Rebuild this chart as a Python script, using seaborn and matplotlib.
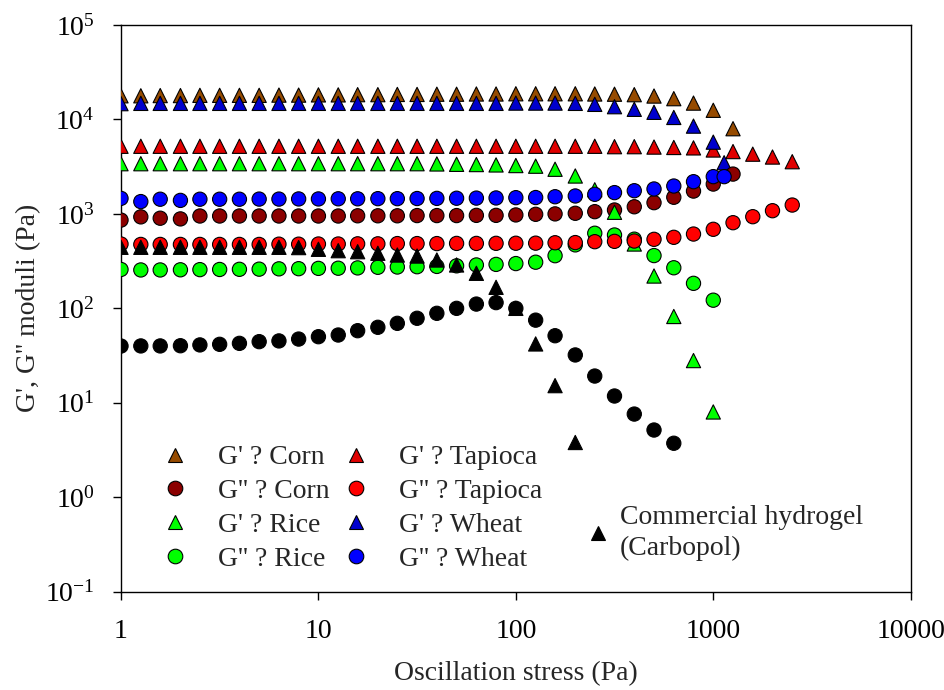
import matplotlib
matplotlib.use("Agg")
import matplotlib.pyplot as plt
import numpy as np
import pandas as pd
import seaborn as sns
from matplotlib.lines import Line2D
from matplotlib.ticker import LogFormatterMathtext, NullLocator, FuncFormatter, FixedLocator

# ---------------- data ----------------
STRESS = [1, 1.26, 1.58, 2, 2.51, 3.16, 3.98, 5.01, 6.31, 7.94,
          10, 12.6, 15.8, 20, 25.1, 31.6, 39.8, 50.1, 63.1, 79.4,
          100, 126, 158, 200, 251, 316, 398, 501, 631, 794,
          1000, 1259, 1585, 1995, 2512]
STRESS_WHEAT = STRESS[:31] + [1135]

X_TICKS = [1, 10, 100, 1000, 10000]
Y_TICKS = [0.1, 1, 10, 100, 1000, 10000, 100000]

corn_gp = [17800, 17800, 17900, 17900, 18000, 18000, 18000, 18000, 18100, 18100,
           18200, 18200, 18300, 18300, 18400, 18400, 18500, 18500, 18600, 18600,
           18700, 18700, 18700, 18700, 18600, 18500, 18300, 17700, 16600, 14900,
           12500, 7980]
corn_gpp = [860, 930, 900, 885, 950, 950, 950, 950, 950, 950,
            950, 950, 955, 955, 955, 960, 960, 960, 965, 965,
            975, 990, 1000, 1015, 1056, 1100, 1190, 1315, 1500, 1745,
            2070, 2640]
rice_gp = [3400, 3400, 3400, 3400, 3400, 3400, 3400, 3400, 3400, 3400,
           3400, 3400, 3400, 3400, 3400, 3400, 3380, 3350, 3330, 3300,
           3250, 3200, 2970, 2520, 1800, 1040, 480, 220, 82, 28,
           8]
rice_gpp = [258, 255, 255, 256, 257, 258, 259, 260, 262, 263,
            265, 266, 268, 272, 274, 276, 278, 282, 288, 292,
            298, 308, 361, 470, 624, 598, 540, 362, 269, 184,
            122]
tapioca_gp = [5200] * 24 + [5200, 5150, 5150, 5100, 5050, 5000, 4750, 4570, 4290, 4000, 3570]
tapioca_gpp = [480, 475, 475, 475, 475, 475, 475, 475, 478, 478,
               480, 480, 482, 482, 485, 485, 485, 487, 487, 488,
               489, 490, 495, 497, 508, 512, 516, 538, 565, 612,
               687, 807, 934, 1081, 1241]
wheat_gp = [14700, 14800, 14800, 14800, 14800, 14800, 14800, 14800, 14800, 14800,
            14800, 14800, 14800, 14800, 14800, 14800, 14800, 14800, 14800, 14800,
            14900, 14900, 14900, 14800, 14450, 13650, 12800, 11900, 10500, 8500,
            5750, 3480]
wheat_gpp = [1460, 1350, 1430, 1390, 1430, 1430, 1430, 1435, 1435, 1440,
             1440, 1445, 1445, 1450, 1450, 1455, 1460, 1465, 1470, 1475,
             1486, 1490, 1520, 1548, 1612, 1680, 1760, 1836, 1973, 2193,
             2480, 2480]
carbopol_gp = [443, 443, 443, 443, 443, 443, 443, 443, 443, 440,
               422, 408, 398, 383, 367, 358, 325, 288, 235, 167,
               100, 42, 15.2, 3.8]
carbopol_gpp = [39.9, 40, 40, 40.2, 41, 41.6, 42.6, 44.4, 45.2, 47.3,
                50.1, 52.2, 58, 63, 69.4, 78.5, 88.6, 100, 111, 115,
                100, 75, 51.3, 32.1, 19.2, 11.8, 7.6, 5.15, 3.73]

LABELS = ["G' ? Corn", "G'' ? Corn", "G' ? Rice", "G'' ? Rice",
          "G' ? Tapioca", "G'' ? Tapioca", "G' ? Wheat", "G'' ? Wheat"]
CARBOPOL_LABEL = "Commercial hydrogel\n(Carbopol)"

# series in drawing order (bottom -> top)
SERIES = [
    ("G' ? Corn", STRESS, corn_gp),
    ("G' ? Tapioca", STRESS, tapioca_gp),
    ("G' ? Wheat", STRESS_WHEAT, wheat_gp),
    ("G'' ? Corn", STRESS, corn_gpp),
    ("G' ? Rice", STRESS, rice_gp),
    ("G'' ? Wheat", STRESS_WHEAT, wheat_gpp),
    ("G'' ? Rice", STRESS, rice_gpp),
    ("G'' ? Tapioca", STRESS, tapioca_gpp),
    ("Carbopol G''", STRESS, carbopol_gpp),
    ("Carbopol G'", STRESS, carbopol_gp),
]

PALETTE = {
    "G' ? Corn": "#964B00", "G'' ? Corn": "#8B0000",
    "G' ? Rice": "#00FF00", "G'' ? Rice": "#00FF00",
    "G' ? Tapioca": "#E00000", "G'' ? Tapioca": "#FF0000",
    "G' ? Wheat": "#0000CD", "G'' ? Wheat": "#0000FF",
    "Carbopol G'": "#000000", "Carbopol G''": "#000000",
}
MARKERS = {k: ("^" if k.startswith("G' ") or k == "Carbopol G'" else "o") for k in PALETTE}

rows = []
for name, xs, ys in SERIES:
    for xv, yv in zip(xs, ys):
        rows.append((name, xv, yv))
df = pd.DataFrame(rows, columns=["series", "stress", "modulus"])

# ---------------- style ----------------
sns.set_style("ticks")
plt.rcParams["font.family"] = ["Liberation Serif", "DejaVu Serif"]
plt.rcParams["mathtext.fontset"] = "custom"
plt.rcParams["mathtext.rm"] = "Liberation Serif"
plt.rcParams["mathtext.it"] = "Liberation Serif:italic"
plt.rcParams["mathtext.bf"] = "Liberation Serif:bold"
plt.rcParams["axes.unicode_minus"] = False

FS = 20
fig = plt.figure(figsize=(9.45, 6.9), dpi=100)
ax = fig.add_axes([121 / 945, 1 - 591.7 / 690, (910.7 - 121) / 945, (591.7 - 25) / 690])

sns.scatterplot(data=df, x="stress", y="modulus", hue="series", style="series",
                palette=PALETTE, markers=MARKERS, s=105, edgecolor="black",
                linewidth=0.8, legend=False, ax=ax, zorder=3)

ax.set_xscale("log")
ax.set_yscale("log")
ax.set_xlim(X_TICKS[0], X_TICKS[-1])
ax.set_ylim(Y_TICKS[0], Y_TICKS[-1])
ax.xaxis.set_major_locator(FixedLocator(X_TICKS))
ax.yaxis.set_major_locator(FixedLocator(Y_TICKS))
ax.xaxis.set_minor_locator(NullLocator())
ax.yaxis.set_minor_locator(NullLocator())
ax.xaxis.set_major_formatter(FuncFormatter(lambda v, p: f"{v:g}"))
ax.yaxis.set_major_formatter(LogFormatterMathtext())

for sp in ax.spines.values():
    sp.set_linewidth(1.0)
    sp.set_color("black")
ax.tick_params(axis="both", which="major", direction="out", length=6, width=1.0,
               labelsize=FS, colors="black", top=False, right=False)
ax.tick_params(axis="x", pad=14)
ax.tick_params(axis="y", pad=13)

ax.set_xlabel("Oscillation stress (Pa)", fontsize=FS, labelpad=12)
ax.set_ylabel("G', G'' moduli (Pa)", fontsize=FS, labelpad=3)

# ---------------- legends ----------------
handles = []
for lab in LABELS:
    handles.append(Line2D([], [], ls="none", marker=MARKERS[lab], markersize=10.5,
                          markerfacecolor=PALETTE[lab], markeredgecolor="black",
                          markeredgewidth=0.8))
leg1 = ax.legend(handles, LABELS, ncol=2, frameon=False, fontsize=FS,
                 loc="upper left", bbox_to_anchor=(152.8 / 945, 1 - 445 / 690),
                 bbox_transform=fig.transFigure, borderpad=0, borderaxespad=0,
                 handlelength=1.6, handletextpad=0.75, columnspacing=0.14,
                 labelspacing=0.3)
ax.add_artist(leg1)

h2 = [Line2D([], [], ls="none", marker="^", markersize=10.5, markerfacecolor="black",
             markeredgecolor="black", markeredgewidth=0.8)]
leg2 = ax.legend(h2, [CARBOPOL_LABEL], frameon=False, fontsize=FS,
                 loc="upper left", bbox_to_anchor=(586.5 / 945, 1 - 505 / 690),
                 bbox_transform=fig.transFigure, borderpad=0, borderaxespad=0,
                 handlelength=0.8, handletextpad=0.4)
for t in leg2.get_texts():
    t.set_linespacing(1.3)

fig.savefig("out.png", dpi=100, facecolor="white")
